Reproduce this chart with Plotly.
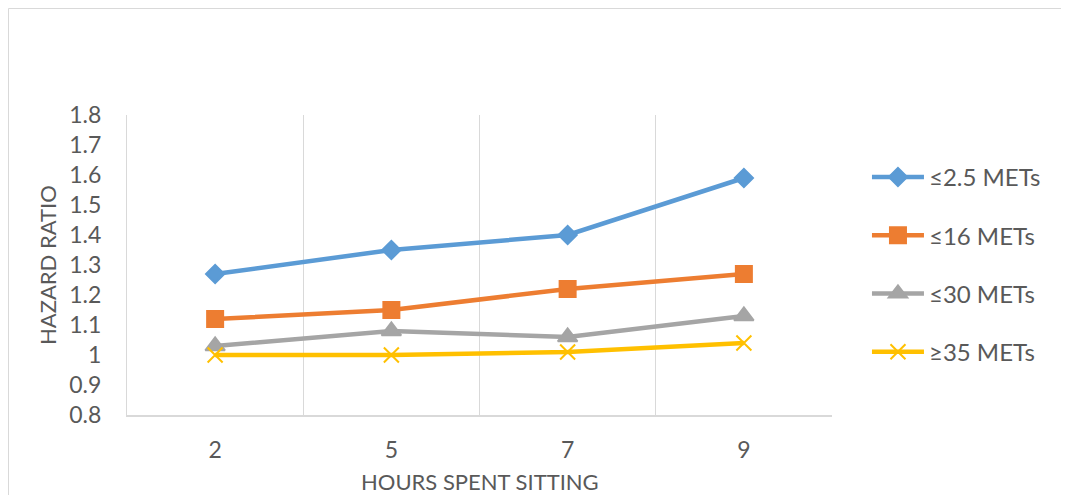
import plotly.graph_objects as go

hours = ["2", "5", "7", "9"]
met_2_5 = [1.27, 1.35, 1.40, 1.59]
met_16 = [1.12, 1.15, 1.22, 1.27]
met_30 = [1.03, 1.08, 1.06, 1.13]
met_35 = [1.00, 1.00, 1.01, 1.04]

series = [
    ("≤2.5 METs", met_2_5, "#5B9BD5", "diamond", 14),
    ("≤16 METs", met_16, "#ED7D31", "square", 16),
    ("≤30 METs", met_30, "#A5A5A5", "triangle-up", 17),
    ("≥35 METs", met_35, "#FFC000", "x-thin", 15),
]

FONT = "Lato, 'Open Sans', sans-serif"
TXT = "#595959"

L, T, PW, PH = 119, 107, 705, 300

fig = go.Figure()
for i, (name, vals, col, sym, sz) in enumerate(series):
    fig.add_trace(go.Scatter(
        x=hours, y=vals, name=name, mode="lines+markers",
        line=dict(color=col, width=4.5),
        marker=dict(symbol=sym, size=sz, color=col,
                    line=dict(color=col, width=2)),
        legendgroup=f"g{i}",
    ))

fig.update_layout(
    width=1069, height=495,
    margin=dict(l=L, r=1069 - L - PW, t=T, b=495 - T - PH),
    paper_bgcolor="white", plot_bgcolor="white",
    font=dict(family=FONT, color=TXT, size=23),
    showlegend=True,
    legend=dict(
        x=1.0496, y=0.8667, xanchor="left", yanchor="top",
        traceorder="grouped", tracegroupgap=24,
        font=dict(size=24, color=TXT, family=FONT),
        itemwidth=52, bgcolor="rgba(0,0,0,0)",
    ),
    xaxis=dict(
        type="category", tickson="boundaries",
        showgrid=True, gridcolor="#D9D9D9", gridwidth=1,
        showline=True, linecolor="#D9D9D9", linewidth=2,
        ticks="", range=[-0.5, 3.5],
        tickfont=dict(size=23, color=TXT),
        ticklabelstandoff=13,
    ),
    yaxis=dict(
        range=[0.8, 1.8], dtick=0.1, tick0=0.8,
        showgrid=False, zeroline=False,
        showline=True, linecolor="#D9D9D9", linewidth=1,
        ticks="", tickfont=dict(size=23, color=TXT),
        ticklabelstandoff=20,
    ),
    annotations=[
        dict(text="HAZARD RATIO", xref="paper", yref="paper",
             x=(47 - 8 - L) / PW, y=0.5, textangle=-90, showarrow=False,
             font=dict(size=22, color=TXT, family=FONT),
             xanchor="center", yanchor="middle"),
        dict(text="HOURS SPENT SITTING", xref="paper", yref="paper",
             x=0.5, y=-66 / PH, showarrow=False,
             font=dict(size=22, color=TXT, family=FONT),
             xanchor="center", yanchor="middle"),
    ],
    shapes=[
        dict(type="rect", xref="paper", yref="paper",
             x0=(-L + 0.5) / PW, x1=1.5, y0=-0.5, y1=1 + (T - 0.5) / PH,
             line=dict(color="#D9D9D9", width=1), layer="below"),
    ],
)
fig.write_html("out.html")
